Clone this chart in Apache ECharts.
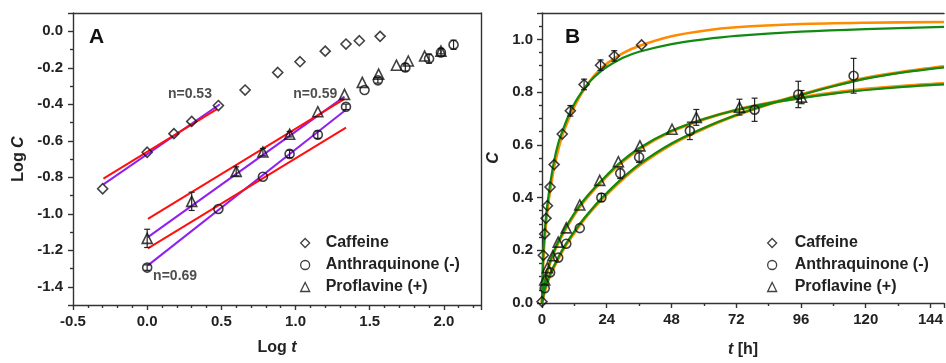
<!DOCTYPE html>
<html>
<head>
<meta charset="utf-8">
<script src="https://cdn.jsdelivr.net/npm/echarts@6.0.0/dist/echarts.min.js"></script>
<style>
  html, body { margin: 0; padding: 0; background: #fff; }
  #chart { width: 946px; height: 363px; }
</style>
</head>
<body>
<div id="chart"></div>
<script>
// ---- panel A : log-log data ----
const cafLogT = [-0.30, 0.0, 0.18, 0.30, 0.48, 0.66, 0.88, 1.03, 1.20, 1.34, 1.43, 1.57];
const cafLogC = [-0.863, -0.663, -0.561, -0.494, -0.407, -0.322, -0.226, -0.167, -0.109, -0.070, -0.052, -0.028];
const cafLogErr = [0.01, 0.01, 0.01, 0.01, 0.01, 0.01, 0.01, 0.01, 0.01, 0.01, 0.01, 0.012];

const antLogT = [0.0, 0.48, 0.78, 0.96, 1.15, 1.34, 1.465, 1.555, 1.74, 1.90, 1.98, 2.065];
const antLogC = [-1.295, -0.974, -0.797, -0.672, -0.567, -0.414, -0.322, -0.269, -0.198, -0.150, -0.116, -0.074];
const antLogErr = [0.015, 0.01, 0.01, 0.02, 0.02, 0.015, 0.01, 0.015, 0.02, 0.025, 0.02, 0.025];

const proLogT = [0.0, 0.30, 0.60, 0.78, 0.96, 1.15, 1.33, 1.45, 1.56, 1.68, 1.76, 1.87, 1.98];
const proLogC = [-1.135, -0.932, -0.768, -0.662, -0.564, -0.441, -0.346, -0.280, -0.235, -0.186, -0.163, -0.136, -0.109];
const proLogErr = [0.05, 0.05, 0.025, 0.02, 0.015, 0.01, 0.01, 0.01, 0.012, 0.01, 0.01, 0.012, 0.015];

// fitted lines (start / end points)
const cafRed = [[-0.295, -0.808], [0.47, -0.427]];
const cafPurple = [[-0.295, -0.839], [0.49, -0.400]];
const proRed = [[0.005, -1.028], [1.33, -0.370]];
const proPurple = [[0.005, -1.128], [1.33, -0.358]];
const antRed = [[0.005, -1.190], [1.34, -0.528]];
const antPurple = [[0.005, -1.283], [1.34, -0.430]];

const noteX = [0.14, 0.985, 0.04];
const noteY = [-0.347, -0.347, -1.34];
const noteText = ['n=0.53', 'n=0.59', 'n=0.69'];

// ---- panel B : linear data ----
const cafT = [0, 0.5, 1, 1.5, 2, 3, 4.5, 7.5, 10.5, 15.6, 21.7, 26.8, 36.9];
const cafC = [0.005, 0.181, 0.262, 0.321, 0.369, 0.44, 0.525, 0.641, 0.729, 0.829, 0.902, 0.937, 0.979];
const cafErr = [0, 0.005, 0.005, 0.005, 0.005, 0.005, 0.008, 0.012, 0.02, 0.02, 0.02, 0.02, 0.012];

const antT = [1, 3, 6, 9, 14, 22, 29, 36, 54.8, 78.8, 95, 115.5];
const antC = [0.056, 0.116, 0.172, 0.225, 0.284, 0.40, 0.492, 0.553, 0.653, 0.733, 0.791, 0.862];
const antErr = [0.005, 0.008, 0.008, 0.01, 0.012, 0.015, 0.02, 0.02, 0.033, 0.044, 0.05, 0.066];

const proT = [1, 2, 4, 6, 9, 14, 21.4, 28.3, 36.3, 48.2, 57.2, 73.2, 96.2];
const proC = [0.087, 0.134, 0.179, 0.231, 0.285, 0.372, 0.465, 0.536, 0.596, 0.659, 0.704, 0.743, 0.781];
const proErr = [0.005, 0.005, 0.008, 0.008, 0.01, 0.01, 0.012, 0.012, 0.012, 0.01, 0.03, 0.03, 0.025];

// model curves
const cafOrange = [[0, 0], [0.5, 0.16], [1, 0.24], [1.5, 0.30], [2, 0.35], [3, 0.425], [4.5, 0.515], [6, 0.58], [7.5, 0.635], [10, 0.70], [12.5, 0.755], [15, 0.80], [18, 0.845], [21, 0.88], [24, 0.908], [30, 0.948], [36, 0.975], [48, 1.012], [60, 1.033], [72, 1.046], [96, 1.058], [120, 1.063], [149, 1.066]];
const cafGreen = [[0, 0], [0.5, 0.19], [1, 0.27], [1.5, 0.33], [2, 0.375], [3, 0.45], [4.5, 0.54], [6, 0.605], [7.5, 0.65], [10, 0.715], [12.5, 0.765], [15, 0.805], [18, 0.843], [21, 0.872], [24, 0.895], [30, 0.93], [36, 0.953], [48, 0.982], [60, 1.0], [72, 1.013], [96, 1.029], [120, 1.039], [149, 1.047]];
const antOrange = [[0, 0], [1, 0.046], [3, 0.106], [6, 0.168], [9, 0.222], [14, 0.296], [18, 0.347], [22, 0.392], [29, 0.462], [36, 0.522], [48, 0.602], [60, 0.662], [72, 0.712], [84, 0.754], [96, 0.79], [108, 0.824], [120, 0.853], [134, 0.877], [149, 0.897]];
const antGreen = [[0, 0], [1, 0.05], [3, 0.11], [6, 0.172], [9, 0.226], [14, 0.30], [18, 0.35], [22, 0.396], [29, 0.466], [36, 0.526], [48, 0.605], [60, 0.664], [72, 0.713], [84, 0.754], [96, 0.789], [108, 0.822], [120, 0.851], [134, 0.875], [149, 0.894]];
const proOrange = [[0, 0], [1, 0.072], [2, 0.121], [4, 0.181], [6, 0.228], [9, 0.286], [14, 0.366], [18, 0.416], [22, 0.46], [28, 0.52], [36, 0.584], [48, 0.651], [60, 0.697], [72, 0.732], [84, 0.758], [96, 0.779], [108, 0.797], [120, 0.811], [134, 0.823], [149, 0.832]];
const proGreen = [[0, 0], [1, 0.075], [2, 0.125], [4, 0.185], [6, 0.232], [9, 0.29], [14, 0.37], [18, 0.42], [22, 0.464], [28, 0.524], [36, 0.587], [48, 0.653], [60, 0.698], [72, 0.732], [84, 0.757], [96, 0.777], [108, 0.794], [120, 0.808], [134, 0.82], [149, 0.829]];

const LEGEND_NAMES = ['Caffeine', 'Anthraquinone (-)', 'Proflavine (+)'];
const SYMBOLS = ['diamond', 'circle', 'triangle'];
const SYMBOL_SIZES = [10, 9, 10];
const AXIS_COLOR = '#333';
const TEXT_COLOR = '#222';
const FONT = '"Liberation Sans", Arial, sans-serif';

const chart = echarts.init(document.getElementById('chart'));

function zip(xs, ys) {
  return xs.map((x, i) => [x, ys[i]]);
}

function scatter(idx, xs, ys, axis) {
  return {
    name: LEGEND_NAMES[idx],
    type: 'scatter',
    xAxisIndex: axis.x,
    yAxisIndex: axis.y,
    symbol: SYMBOLS[idx],
    symbolSize: SYMBOL_SIZES[idx],
    data: zip(xs, ys),
    itemStyle: { color: 'transparent', borderColor: '#111', borderWidth: 1.6 },
    z: 5,
  };
}

function errorBars(xs, ys, errs, axis) {
  const rows = [];
  xs.forEach((x, i) => {
    if (errs[i] > 0.012) rows.push([x, ys[i] - errs[i], ys[i] + errs[i]]);
  });
  return {
    type: 'custom',
    xAxisIndex: axis.x,
    yAxisIndex: axis.y,
    silent: true,
    z: 4,
    data: rows,
    renderItem: (params, api) => {
      const lo = api.coord([api.value(0), api.value(1)]);
      const hi = api.coord([api.value(0), api.value(2)]);
      const w = 3;
      const style = { stroke: '#222', lineWidth: 1.2 };
      return {
        type: 'group',
        children: [
          { type: 'line', shape: { x1: lo[0], y1: lo[1], x2: hi[0], y2: hi[1] }, style },
          { type: 'line', shape: { x1: lo[0] - w, y1: lo[1], x2: lo[0] + w, y2: lo[1] }, style },
          { type: 'line', shape: { x1: hi[0] - w, y1: hi[1], x2: hi[0] + w, y2: hi[1] }, style },
        ],
      };
    },
  };
}

function fitLine(data, color, axis, width, z) {
  return {
    type: 'line',
    xAxisIndex: axis.x,
    yAxisIndex: axis.y,
    data: data,
    symbol: 'none',
    silent: true,
    lineStyle: { color: color, width: width },
    z: z,
  };
}

function curve(data, color, width, z) {
  return {
    type: 'line',
    xAxisIndex: 2,
    yAxisIndex: 2,
    data: data,
    symbol: 'none',
    smooth: 0.3,
    silent: true,
    lineStyle: { color: color, width: width },
    z: z,
  };
}

const labelStyle = { color: TEXT_COLOR, fontSize: 15, fontWeight: 'bold', fontFamily: FONT };
const nameStyle = {
  color: TEXT_COLOR, fontSize: 16, fontWeight: 'bold', fontFamily: FONT,
  rich: { i: { fontStyle: 'italic', fontWeight: 'bold', fontSize: 16, fontFamily: FONT, color: TEXT_COLOR } },
};
const lineStyle = { color: AXIS_COLOR, width: 1.4 };
const fmt1 = (v) => (Math.abs(v) < 1e-9 ? '0.0' : v.toFixed(1));

function frameAxis(gridIndex, min, max) {
  return {
    type: 'value', gridIndex, min, max,
    axisLine: { show: true, onZero: false, lineStyle },
    axisTick: { show: false }, axisLabel: { show: false }, splitLine: { show: false },
  };
}

function legend(left, pad) {
  return {
    orient: 'vertical',
    left: left,
    top: 230,
    itemWidth: 9,
    itemHeight: 9,
    itemGap: 6,
    selectedMode: false,
    data: LEGEND_NAMES.map((n, i) => ({ name: n, icon: SYMBOLS[i] })),
    itemStyle: { color: 'transparent', borderColor: '#111', borderWidth: 1.3 },
    textStyle: { color: TEXT_COLOR, fontSize: 16, fontWeight: 'bold', fontFamily: FONT, lineHeight: 16, padding: [0, 0, 0, pad] },
  };
}

const A = { x: 0, y: 0 };
const B = { x: 2, y: 2 };

const option = {
  animation: false,
  backgroundColor: '#fff',
  grid: [
    { left: 73, top: 13, width: 408, height: 292 },
    { left: 542, top: 13, width: 404, height: 292 },
  ],
  xAxis: [
    {
      type: 'value', gridIndex: 0, min: -0.5, max: 2.25, interval: 0.5,
      name: 'Log {i|t}', nameLocation: 'middle', nameGap: 35, nameTextStyle: nameStyle,
      axisLine: { show: true, onZero: false, lineStyle },
      axisTick: { show: true, length: 5, lineStyle },
      minorTick: { show: true, splitNumber: 5, length: 3, lineStyle },
      axisLabel: { ...labelStyle, margin: 9, formatter: fmt1, showMaxLabel: false },
      splitLine: { show: false },
    },
    { ...frameAxis(0, -0.5, 2.25), position: 'top' },
    {
      type: 'value', gridIndex: 1, min: 0, max: 149, interval: 24,
      name: '{i|t} [h]', nameLocation: 'middle', nameGap: 39, nameTextStyle: nameStyle,
      axisLine: { show: true, onZero: false, lineStyle },
      axisTick: { show: true, length: 5, lineStyle },
      minorTick: { show: true, splitNumber: 2, length: 3, lineStyle },
      axisLabel: { ...labelStyle, margin: 9, showMaxLabel: false },
      splitLine: { show: false },
    },
    { ...frameAxis(1, 0, 149), position: 'top' },
  ],
  yAxis: [
    {
      type: 'value', gridIndex: 0, min: -1.5, max: 0.1, splitNumber: 8, minInterval: 0.2, maxInterval: 0.2,
      name: 'Log {i|C}', nameLocation: 'middle', nameGap: 46, nameTextStyle: nameStyle,
      axisLine: { show: true, onZero: false, lineStyle },
      axisTick: { show: true, length: 5, lineStyle },
      minorTick: { show: true, splitNumber: 2, length: 3, lineStyle },
      axisLabel: { ...labelStyle, margin: 10, formatter: fmt1, showMinLabel: false, showMaxLabel: false },
      splitLine: { show: false },
    },
    { ...frameAxis(0, -1.5, 0.1), position: 'right' },
    {
      type: 'value', gridIndex: 1, min: 0, max: 1.1, interval: 0.2,
      name: '{i|C}', nameLocation: 'middle', nameGap: 40, nameTextStyle: nameStyle,
      axisLine: { show: true, onZero: false, lineStyle },
      axisTick: { show: true, length: 5, lineStyle },
      minorTick: { show: true, splitNumber: 4, length: 3, lineStyle },
      axisLabel: { ...labelStyle, margin: 9, formatter: fmt1, showMaxLabel: false },
      splitLine: { show: false },
    },
  ],
  legend: [legend(295, 11), legend(762, 13)],
  graphic: [
    { type: 'text', left: 89, top: 27, style: { text: 'A', fill: '#111', font: 'bold 21px ' + FONT } },
    { type: 'text', left: 565, top: 27, style: { text: 'B', fill: '#111', font: 'bold 21px ' + FONT } },
  ],
  series: [
    // panel A fits
    fitLine(cafPurple, '#9020f0', A, 2, 2),
    fitLine(cafRed, '#ff1010', A, 2, 3),
    fitLine(proPurple, '#9020f0', A, 2, 2),
    fitLine(proRed, '#ff1010', A, 2, 3),
    fitLine(antPurple, '#9020f0', A, 2, 2),
    fitLine(antRed, '#ff1010', A, 2, 3),
    errorBars(cafLogT, cafLogC, cafLogErr, A),
    errorBars(antLogT, antLogC, antLogErr, A),
    errorBars(proLogT, proLogC, proLogErr, A),
    scatter(0, cafLogT, cafLogC, A),
    scatter(1, antLogT, antLogC, A),
    scatter(2, proLogT, proLogC, A),
    {
      type: 'scatter', xAxisIndex: 0, yAxisIndex: 0, symbolSize: 0, silent: true,
      data: zip(noteX, noteY).map((p, i) => ({ value: p, label: { formatter: noteText[i] } })),
      label: { show: true, position: 'right', distance: 0, color: '#222', fontSize: 14, fontWeight: 'bold', fontFamily: FONT },
      z: 6,
    },
    // panel B model curves
    curve(cafOrange, '#ff8c00', 2.6, 2),
    curve(cafGreen, '#118a11', 2.2, 3),
    curve(antOrange, '#ff8c00', 3.2, 2),
    curve(antGreen, '#118a11', 2.2, 3),
    curve(proOrange, '#ff8c00', 3.2, 2),
    curve(proGreen, '#118a11', 2.2, 3),
    errorBars(cafT, cafC, cafErr, B),
    errorBars(antT, antC, antErr, B),
    errorBars(proT, proC, proErr, B),
    scatter(0, cafT, cafC, B),
    scatter(1, antT, antC, B),
    scatter(2, proT, proC, B),
  ],
};

chart.setOption(option);
</script>
</body>
</html>
